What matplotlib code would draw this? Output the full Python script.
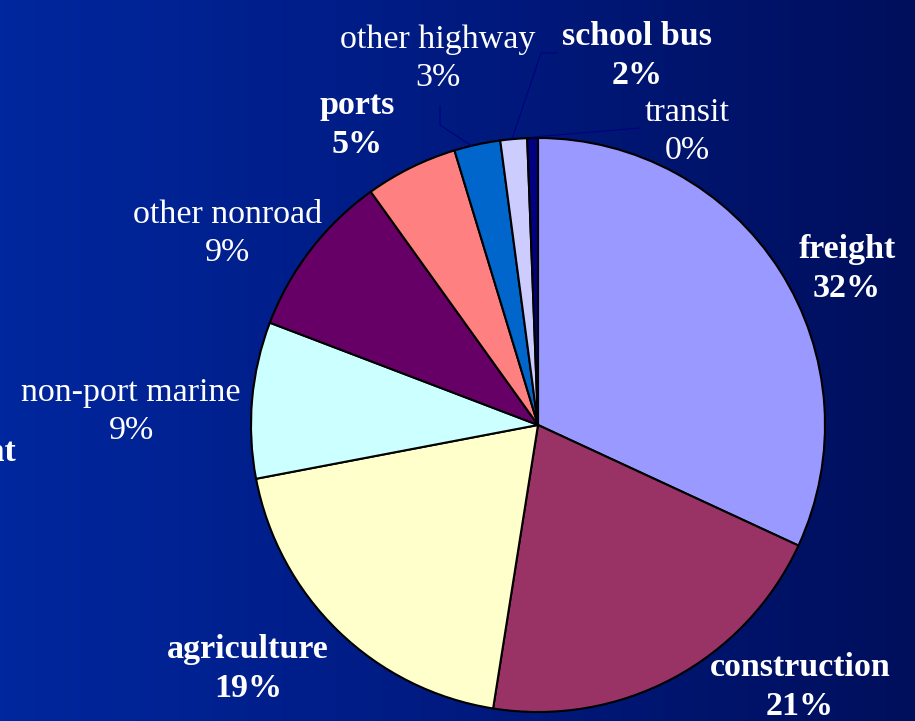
import matplotlib
matplotlib.use('Agg')
import numpy as np
import matplotlib.pyplot as plt
from matplotlib.colors import LinearSegmentedColormap

# Slice data, clockwise from 12 o'clock
categories = ['freight', 'construction', 'agriculture', 'non-port marine',
              'other nonroad', 'ports', 'other highway', 'school bus', 'transit']
shares = [31.9, 20.6, 19.5, 8.8, 9.3, 5.2, 2.6, 1.5, 0.6]
pct_labels = ['32%', '21%', '19%', '9%', '9%', '5%', '3%', '2%', '0%']
bold_labels = ['freight', 'construction', 'agriculture', 'ports', 'school bus']
slice_colors = ['#9999ff', '#993366', '#ffffcc', '#ccffff', '#660066',
                '#ff8080', '#0066cc', '#ccccff', '#000080']

W, H = 915, 721


def py(y):
    # picture rows run downward, data y runs upward
    return H - y


fig = plt.figure(figsize=(W / 100, H / 100), dpi=100)
ax = fig.add_axes([0, 0, 1, 1])

# blue background, brighter on the left
bg = LinearSegmentedColormap.from_list('bg', ['#00279e', '#001a80', '#000f5c'])
grad = np.linspace(0, 1, 256).reshape(1, -1)
ax.imshow(grad, cmap=bg, extent=(0, W, 0, H), aspect='auto', zorder=0)

center = (538, py(425))
ax.pie(shares, colors=slice_colors, startangle=90, counterclock=False,
       center=center, radius=287,
       wedgeprops=dict(edgecolor='black', linewidth=1.5), frame=False)

# label block centres in picture pixels
label_pos = {
    'freight': (847, 269),
    'construction': (800, 687),
    'agriculture': (248, 669),
    'non-port marine': (131, 412),
    'other nonroad': (228, 234),
    'ports': (357, 125),
    'other highway': (438, 59),
    'school bus': (637, 56),
    'transit': (687, 132),
}

for name, pct in zip(categories, pct_labels):
    x, y = label_pos[name]
    ax.text(x, py(y), name + '\n' + pct, ha='center', va='center',
            color='white', fontsize=24.5, family='Liberation Serif',
            fontweight='bold' if name in bold_labels else 'normal',
            linespacing=1.3, zorder=5)

# label cut off at the left edge of the slide
ax.text(16, py(472), 'plant\n6%', ha='right', va='center', color='white',
        fontsize=24.5, family='Liberation Serif', fontweight='bold',
        linespacing=1.3, multialignment='center', zorder=5)

# leader lines for the small slices
leaders = [
    ([440, 440, 472], [106, 125, 146]),
    ([557, 541, 512], [53, 53, 139]),
    ([640, 533], [128, 137]),
]
for xs, ys in leaders:
    ax.plot(xs, [py(v) for v in ys], color='#000080', linewidth=0.8, zorder=4)

ax.set_xlim(0, W)
ax.set_ylim(0, H)
ax.set_aspect('equal')
ax.axis('off')

fig.savefig('out.png', dpi=100)
